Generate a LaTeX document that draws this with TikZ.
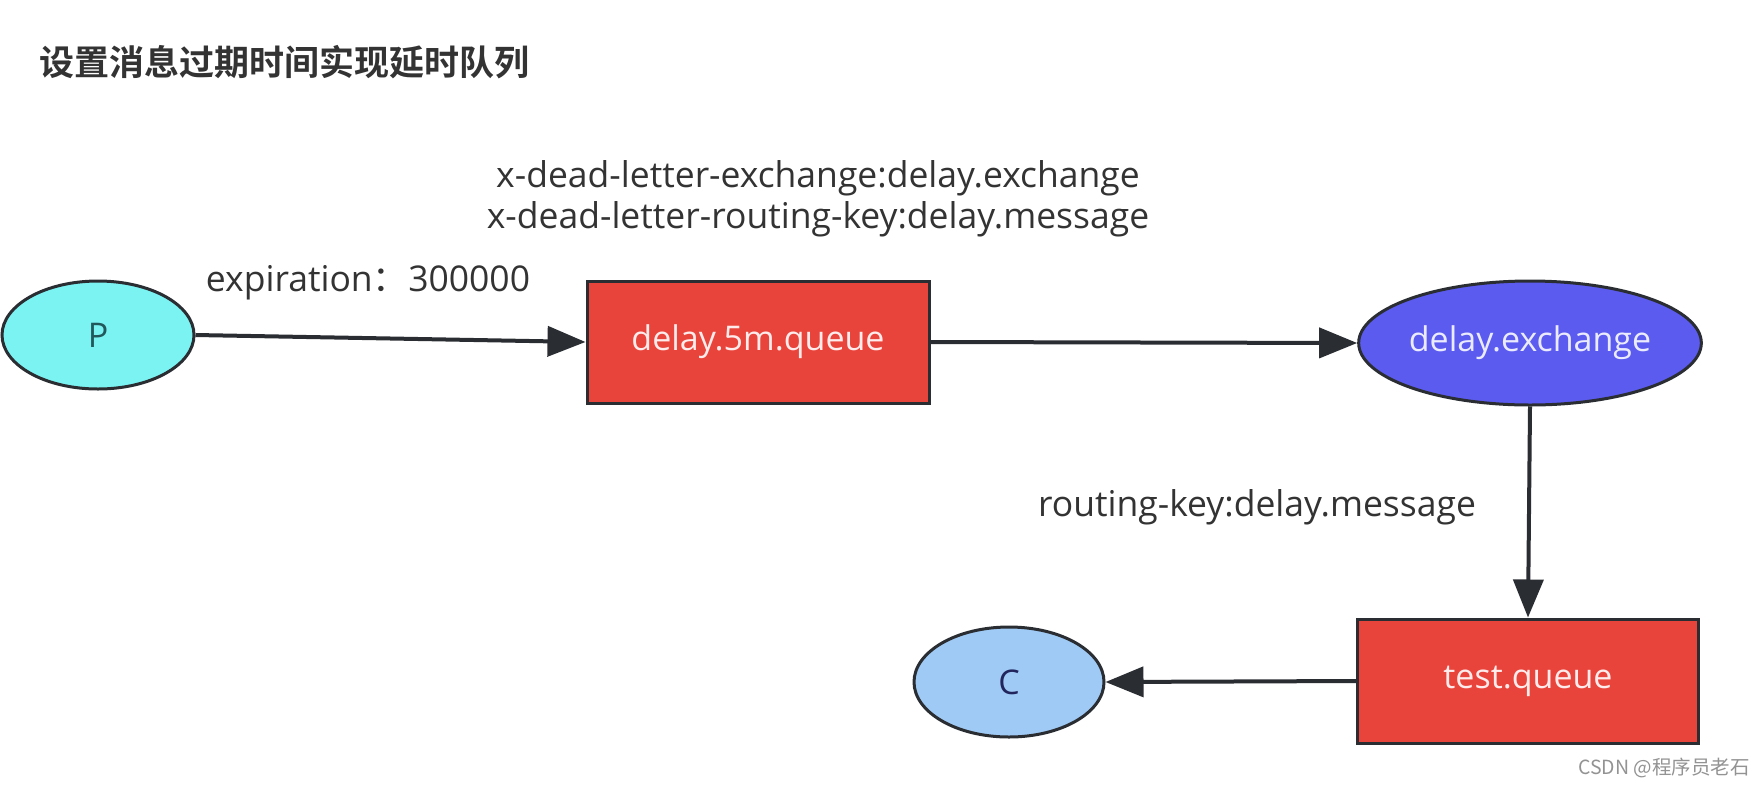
\documentclass[tikz,border=0pt]{standalone}
\usepackage{fontspec}
\setmainfont{Open Sans}
\newfontfamily\cjk{Noto Sans CJK SC}
\newfontfamily\cjkb{Noto Sans CJK SC Bold}
\usetikzlibrary{shapes.geometric,arrows.meta}
\definecolor{edgec}{HTML}{2A2E33}
\definecolor{pcyan}{HTML}{7CF3F3}
\definecolor{qred}{HTML}{E8443B}
\definecolor{xblue}{HTML}{5B5BEF}
\definecolor{clight}{HTML}{9FCAF5}
\definecolor{txt}{HTML}{333333}
\tikzset{
  base/.style={draw=edgec,line width=3pt,inner sep=0pt,font=\fontsize{34}{40}\selectfont},
  ell/.style={base,ellipse},
  qbox/.style={base,rectangle,fill=qred,text=white!92!red},
  conn/.style={draw=edgec,line width=4pt,-{Triangle[length=38pt,width=30pt]}},
  lbl/.style={text=txt,font=\fontsize{35.5}{42}\selectfont,inner sep=0pt,align=center},
}
\begin{document}
\begin{tikzpicture}[x=1pt,y=-1pt]
\useasboundingbox[fill=white] (0,0) rectangle (1764,788);
\node[anchor=west,text=txt,font=\cjkb\fontsize{35}{40}\selectfont,inner sep=0pt] (title) at (39,62) {设置消息过期时间实现延时队列};
\node[ell,fill=pcyan,minimum width=192pt,minimum height=108pt,text=edgec!80!cyan] (P) at (98,335) {P};
\node[qbox,minimum width=342pt,minimum height=122pt] (q1) at (758,342) {delay.5m.queue};
\node[ell,fill=xblue,minimum width=336pt,minimum height=124pt,text=white!92!blue] (ex) at (1530,343) {delay.exchange};
\node[qbox,minimum width=341pt,minimum height=124pt] (q2) at (1528,681) {test.queue};
\node[ell,fill=clight,minimum width=190pt,minimum height=110pt,text=edgec!80!blue] (C) at (1009,682) {C};
\draw[conn] (P.east) -- (q1.west);
\draw[conn] (q1.east) -- (ex.west);
\draw[conn] (ex.south) -- (q2.north);
\draw[conn] (q2.west) -- (C.east);
\node[lbl] (l1) at (368,283) {expiration{\cjk ：}300000};
\node[lbl] (l2) at (818,178) {x-dead-letter-exchange:delay.exchange};
\node[lbl] (l3) at (818,219) {x-dead-letter-routing-key:delay.message};
\node[lbl] (l4) at (1257,507) {routing-key:delay.message};
\node[anchor=east,text=gray!85,font=\cjk\fontsize{19.5}{24}\selectfont,inner sep=0pt] (wm) at (1750,768) {CSDN @程序员老石};
\end{tikzpicture}
\end{document}
